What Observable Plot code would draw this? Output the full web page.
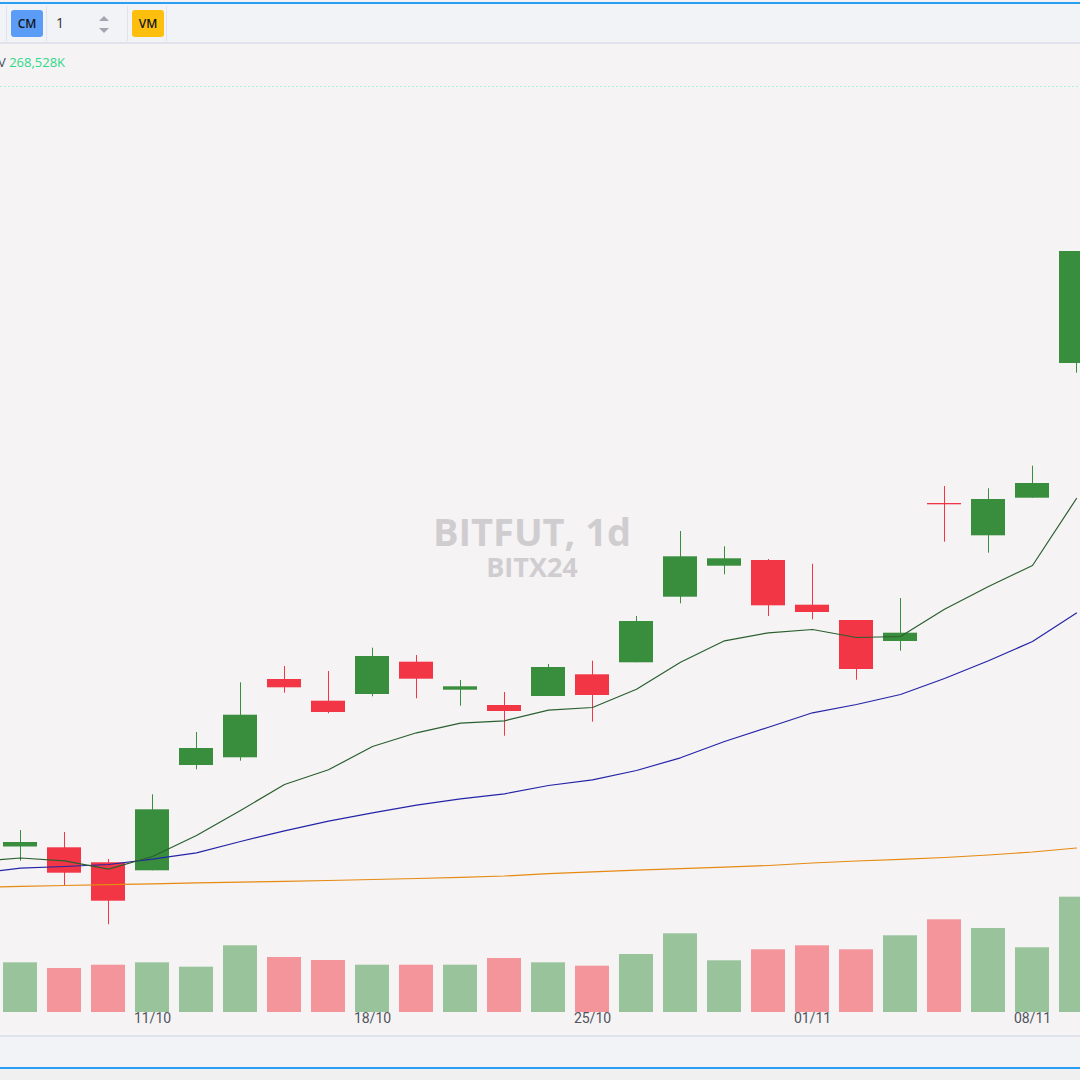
<!DOCTYPE html>
<html>
<head>
<meta charset="utf-8">
<script src="https://cdn.jsdelivr.net/npm/d3@7"></script>
<script src="https://cdn.jsdelivr.net/npm/@observablehq/plot@0.6"></script>
<style>
html,body{margin:0;padding:0;background:#f2f2f2;}
#root{position:relative;width:1080px;height:1080px;overflow:hidden;background:#f5f3f4;font-family:"Open Sans",sans-serif;}
.abs{position:absolute;}
.sep{position:absolute;top:6px;width:1px;height:35px;background:#e0e3eb;}
.btn{position:absolute;top:10px;width:32px;height:27px;border-radius:3px;font:600 12px "Open Sans",sans-serif;color:#131722;display:flex;align-items:center;justify-content:center;}
.plotlayer{position:absolute;left:0;top:0;}
.plotlayer svg{display:block;overflow:hidden;}
</style>
</head>
<body>
<div id="root">
  <svg id="deco" class="abs" width="1080" height="1080" style="left:0;top:0"></svg>
  <div id="volLayer" class="plotlayer"></div>
  <div id="priceLayer" class="plotlayer"></div>

  <div class="abs" style="left:0;top:2px;width:1080px;height:2px;background:#2a9df4"></div>
  <div class="abs" style="left:0;top:4px;width:1080px;height:38px;background:#f1f3f7"></div>
  <div class="abs" style="left:0;top:42px;width:1080px;height:2px;background:#e0e3eb"></div>
  <div class="sep" style="left:6px"></div>
  <div class="sep" style="left:46px"></div>
  <div class="sep" style="left:127px"></div>
  <div class="sep" style="left:166px"></div>
  <div class="btn" style="left:11px;background:#5b9cf6">CM</div>
  <div class="abs" style="left:56px;top:13px;font:14px 'Open Sans',sans-serif;color:#333;line-height:20px">1</div>
  <div class="abs" style="left:99px;top:16px;width:0;height:0;border-left:5.5px solid transparent;border-right:5.5px solid transparent;border-bottom:5px solid #a3a6af"></div>
  <div class="abs" style="left:99px;top:28px;width:0;height:0;border-left:5.5px solid transparent;border-right:5.5px solid transparent;border-top:5px solid #a3a6af"></div>
  <div class="btn" style="left:132px;background:#fcbf0e">VM</div>

  <div class="abs" style="left:0;top:1035px;width:1080px;height:2px;background:#e0e3eb"></div>
  <div class="abs" style="left:0;top:1037px;width:1080px;height:30px;background:#f1f3f7"></div>
  <div class="abs" style="left:0;top:1067px;width:1080px;height:2px;background:#2a9df4"></div>
  <div class="abs" style="left:0;top:1069px;width:1080px;height:11px;background:#f0f0f0"></div>
</div>
<script>
// ---- data ----
const days = ["05/10","06/10","07/10","08/10","11/10","12/10","13/10","14/10","15/10",
  "18/10","19/10","20/10","21/10","22/10","25/10","26/10","27/10","28/10","29/10",
  "01/11","02/11","03/11","04/11","05/11","08/11","09/11"];
const labelDays = ["11/10","18/10","25/10","01/11","08/11"];
const candleDays = days.slice(1);

const open  = [35.35,35.27,33.77,32.97,43.50,44.27,52.10,49.93,50.60,53.83,51.03,49.50,50.40,52.57,53.77,60.33,63.43,64.00,59.53,58.00,55.90,69.70,66.47,70.23,83.70];
const high  = [37.00,36.80,34.10,40.57,46.80,51.77,53.40,52.90,55.23,54.50,52.00,50.80,53.60,53.93,58.40,66.90,65.37,64.10,63.63,58.00,60.20,71.40,71.17,73.43,94.90];
const low   = [33.93,31.50,27.57,32.97,43.07,43.93,50.73,48.67,50.37,50.17,49.43,46.43,50.40,47.83,53.77,59.67,62.57,58.40,58.07,52.03,54.93,65.83,64.73,70.23,82.73];
const close = [35.80,32.73,29.93,39.07,45.20,48.53,51.27,48.80,54.40,52.13,51.37,48.90,53.30,50.50,57.90,64.37,64.17,59.47,58.80,53.10,56.73,69.57,70.10,71.70,94.90];
const volumeK = [115750,102480,110160,115750,105500,155340,128100,121110,110160,110160,110160,125770,115750,107830,135080,183290,120410,146030,155340,146030,178630,215900,195640,150690,268528];

const maFast = [33.92,34.25,33.97,33.13,34.40,36.50,39.00,41.60,43.07,45.40,46.77,47.73,47.97,49.03,49.30,51.12,53.83,55.97,56.77,57.10,56.30,56.40,59.13,61.40,63.50,70.20];
const maMid  = [32.73,33.23,33.40,33.60,34.13,34.77,35.90,36.97,37.93,38.77,39.53,40.17,40.67,41.50,42.07,43.00,44.27,45.90,47.33,48.77,49.60,50.60,52.20,53.97,55.90,58.74];
const maSlow = [31.32,31.41,31.50,31.58,31.67,31.76,31.84,31.92,32.00,32.10,32.20,32.32,32.45,32.68,32.87,33.03,33.18,33.33,33.50,33.75,33.95,34.12,34.30,34.55,34.85,35.25];

const symbol = "BITFUT, 1d";
const contract = "BITX24";

// ---- styles ----
const UP = "#388e3c", DOWN = "#f23645";
const VUP = "#99c39b", VDOWN = "#f4959b";

const candles = candleDays.map((d, i) => ({
  day: d, open: open[i], high: high[i], low: low[i], close: close[i],
  volume: volumeK[i], up: close[i] >= open[i]
}));
const maRows = days.map((d, i) => ({day: d, fast: maFast[i], mid: maMid[i], slow: maSlow[i]}));

const xBase = {type: "band", domain: days, range: [-46, 1098], padding: 0, label: null};

const volPlot = Plot.plot({
  width: 1080, height: 1036,
  marginTop: 0, marginLeft: 0, marginRight: 0, marginBottom: 24,
  style: {background: "transparent", fontFamily: "Roboto, sans-serif", fontSize: "14px", color: "#50535e"},
  x: {...xBase},
  y: {domain: [0, d3.max(volumeK)], range: [1012, 896.7], axis: null},
  color: {type: "identity"},
  marks: [
    Plot.barY(candles, {x: "day", y: "volume", fill: d => d.up ? VUP : VDOWN, insetLeft: 5, insetRight: 5}),
    Plot.axisX({ticks: labelDays, tickSize: 0, tickPadding: 1, anchor: "bottom", fontSize: 14, label: null})
  ]
});
document.getElementById("volLayer").appendChild(volPlot);

const pricePlot = Plot.plot({
  width: 1080, height: 1036, margin: 0,
  style: {background: "transparent"},
  x: {...xBase, axis: null},
  y: {type: "linear", domain: [20, 120], range: [1000, 0], axis: null},
  color: {type: "identity"},
  marks: [
    Plot.ruleX(candles, {x: "day", y1: "low", y2: "high", stroke: d => d.up ? UP : DOWN, strokeWidth: 1}),
    Plot.barY(candles, {x: "day", y1: "open", y2: "close", fill: d => d.up ? UP : DOWN, insetLeft: 5, insetRight: 5}),
    Plot.lineY(maRows, {x: "day", y: "slow", stroke: "#e68a12", strokeWidth: 1.2}),
    Plot.lineY(maRows, {x: "day", y: "mid", stroke: "#2424a8", strokeWidth: 1.2}),
    Plot.lineY(maRows, {x: "day", y: "fast", stroke: "#2b5f2f", strokeWidth: 1.2})
  ]
});
document.getElementById("priceLayer").appendChild(pricePlot);

// ---- decorations: watermark, legend value, dotted line ----
const deco = d3.select("#deco");
deco.append("line").attr("x1", 0).attr("x2", 1080).attr("y1", 86.5).attr("y2", 86.5)
  .attr("stroke", "#aef2d6").attr("stroke-width", 1).attr("stroke-dasharray", "2 2");
const vt = deco.append("text").attr("x", -2).attr("y", 66.5)
  .attr("font-family", "Open Sans, sans-serif").attr("font-size", 13);
vt.append("tspan").attr("fill", "#4a4d57").text("V ");
vt.append("tspan").attr("fill", "#2fd888").text(d3.format(",")(volumeK[volumeK.length - 1]) + "K");
deco.append("text").attr("x", 532).attr("y", 545.7).attr("text-anchor", "middle")
  .attr("font-family", "Open Sans, sans-serif").attr("font-weight", 700).attr("font-size", 38)
  .attr("fill", "#d0cdd0").text(symbol);
deco.append("text").attr("x", 532).attr("y", 576.7).attr("text-anchor", "middle")
  .attr("font-family", "Open Sans, sans-serif").attr("font-weight", 700).attr("font-size", 27)
  .attr("fill", "#d0cdd0").text(contract);
</script>
</body>
</html>
